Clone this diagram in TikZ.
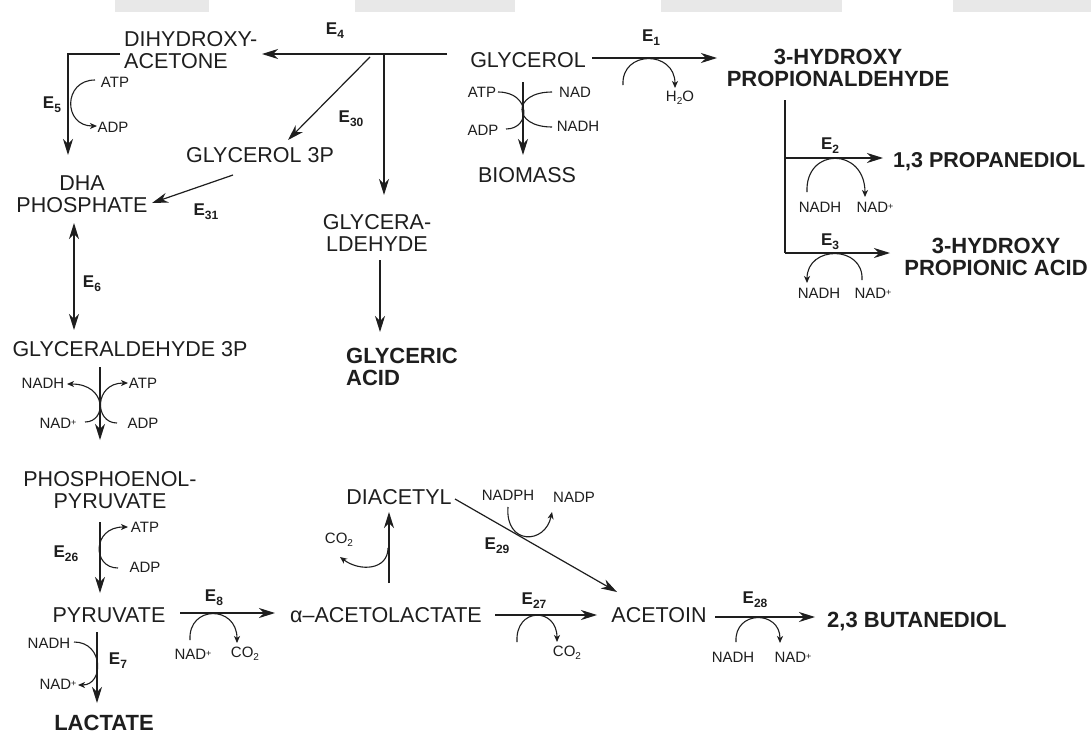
\documentclass[tikz,border=0pt]{standalone}
\usepackage{fontspec}
\setmainfont{Liberation Sans}
\usetikzlibrary{arrows.meta}
\definecolor{ink}{HTML}{1E1E1E}
\definecolor{wm}{HTML}{E8E8E8}
\newcommand{\Enz}[1]{E\raisebox{-4pt}{\fontsize{12}{12}\selectfont #1}}
\newcommand{\sbs}[1]{\raisebox{-2.5pt}{\fontsize{10}{10}\selectfont #1}}
\newcommand{\plusup}{\raisebox{2.5pt}{\fontsize{9}{9}\selectfont +}}
\begin{document}
\begin{tikzpicture}[x=1pt,y=-1pt,
  met/.style={font=\fontsize{21.5}{22}\selectfont, inner sep=0pt, align=center, text=ink},
  prod/.style={met, font=\fontsize{22}{22}\selectfont\bfseries},
  cof/.style={font=\fontsize{15}{15}\selectfont, inner sep=0pt, text=ink},
  enz/.style={font=\fontsize{17}{17}\selectfont\bfseries, inner sep=0pt, text=ink},
  rxn/.style={draw=ink, line width=1.2pt, -{Stealth[length=16pt,width=10pt,inset=5pt]}},
  rxnboth/.style={draw=ink, line width=1.2pt, {Stealth[length=16pt,width=10pt,inset=5pt]}-{Stealth[length=16pt,width=10pt,inset=5pt]}},
  ln/.style={draw=ink, line width=1.2pt},
  cofarr/.style={draw=ink, line width=1.1pt, -{Stealth[length=7pt,width=6pt,inset=2pt]}},
  cofln/.style={draw=ink, line width=1.1pt}]
\useasboundingbox (0,0) rectangle (1091,734);
\fill[white] (0,0) rectangle (1091,734);
% watermark band
\fill[wm] (115,0) rectangle (209,12);
\fill[wm] (355,0) rectangle (515,12);
\fill[wm] (661,0) rectangle (842,12);
\fill[wm] (953,0) rectangle (1091,12);

% ---------- metabolites ----------
\node[met, anchor=west, align=left] (dhac) at (124,50) {DIHYDROXY-\\ACETONE};
\node[met] (gly) at (528,60) {GLYCEROL};
\node[prod] (hpa) at (838,68) {3-HYDROXY\\PROPIONALDEHYDE};
\node[met] (g3p) at (260,155) {GLYCEROL 3P};
\node[met] (dhap) at (82,194) {DHA\\PHOSPHATE};
\node[met] (glyald) at (377,233) {GLYCERA-\\LDEHYDE};
\node[met] (bio) at (527,175) {BIOMASS};
\node[prod, anchor=base west, font=\fontsize{21.5}{22}\selectfont\bfseries] (pdo) at (893,167) {1,3 PROPANEDIOL};
\node[prod] (hpacid) at (996,257) {3-HYDROXY\\PROPIONIC ACID};
\node[prod, anchor=west, align=left] (glyac) at (346,367) {GLYCERIC\\ACID};
\node[met] (gap) at (130,349) {GLYCERALDEHYDE 3P};
\node[met] (pep) at (110,490) {PHOSPHOENOL-\\PYRUVATE};
\node[met] (pyr) at (109,615) {PYRUVATE};
\node[prod] (lac) at (104,723) {LACTATE};
\node[met] (acl) at (386,615) {α–ACETOLACTATE};
\node[met] (diac) at (399,497) {DIACETYL};
\node[met] (acetoin) at (659,615) {ACETOIN};
\node[prod, anchor=base west] (bdo) at (827,627) {2,3 BUTANEDIOL};

% ---------- enzyme labels ----------
\node[enz] (e1) at (651,38) {\Enz{1}};
\node[enz] (e2) at (830,146) {\Enz{2}};
\node[enz] (e3) at (830,242) {\Enz{3}};
\node[enz] (e4) at (335,31) {\Enz{4}};
\node[enz] (e5) at (52,105) {\Enz{5}};
\node[enz] (e6) at (92,284) {\Enz{6}};
\node[enz] (e7) at (118,661) {\Enz{7}};
\node[enz] (e8) at (214,598) {\Enz{8}};
\node[enz] (e26) at (66,554) {\Enz{26}};
\node[enz] (e27) at (534,601) {\Enz{27}};
\node[enz] (e28) at (755,600) {\Enz{28}};
\node[enz] (e29) at (497,546) {\Enz{29}};
\node[enz] (e30) at (351,119) {\Enz{30}};
\node[enz] (e31) at (206,212) {\Enz{31}};

% ---------- cofactors ----------
\node[cof] (c5a) at (115,82) {ATP};
\node[cof] (c5b) at (113,127) {ADP};
\node[cof] (cbATP) at (482,92) {ATP};
\node[cof] (cbNAD) at (575,92) {NAD};
\node[cof] (cbADP) at (483,130) {ADP};
\node[cof] (cbNADH) at (578,126) {NADH};
\node[cof] (c1) at (680,98) {H\sbs{2}O};
\node[cof] (c2a) at (820,207) {NADH};
\node[cof] (c2b) at (875,207) {NAD\plusup};
\node[cof] (c3a) at (819,293) {NADH};
\node[cof] (c3b) at (873,293) {NAD\plusup};
\node[cof] (cgNADH) at (43,383) {NADH};
\node[cof] (cgATP) at (143,383) {ATP};
\node[cof] (cgNAD) at (58,423) {NAD\plusup};
\node[cof] (cgADP) at (143,423) {ADP};
\node[cof] (c26a) at (145,527) {ATP};
\node[cof] (c26b) at (145,567) {ADP};
\node[cof] (c7a) at (49,643) {NADH};
\node[cof] (c7b) at (58,684) {NAD\plusup};
\node[cof] (c8a) at (193,654) {NAD\plusup};
\node[cof] (c8b) at (245,654) {CO\sbs{2}};
\node[cof] (cdco2) at (339,540) {CO\sbs{2}};
\node[cof] (c29a) at (508,495) {NADPH};
\node[cof] (c29b) at (574,497) {NADP};
\node[cof] (c27) at (567,653) {CO\sbs{2}};
\node[cof] (c28a) at (733,657) {NADH};
\node[cof] (c28b) at (793,657) {NAD\plusup};

% ---------- connector points ----------
\coordinate (e4s) at (447,54);
\coordinate (e4t) at (262,54);
\coordinate (bra) at (384,54);
\coordinate (brat) at (384,195);
\coordinate (e30s) at (370,57);
\coordinate (e30t) at (288,140);
\coordinate (e31s) at (233,175);
\coordinate (e31t) at (152,203);
\coordinate (e5s) at (120,54);
\coordinate (e5c) at (68,54);
\coordinate (e5t) at (68,155);
\coordinate (e6a) at (74,223);
\coordinate (e6b) at (74,330);
\coordinate (gas) at (380,260);
\coordinate (gat) at (380,332);
\coordinate (gps) at (100,367);
\coordinate (gpt) at (100,440);
\coordinate (e26s) at (100,522);
\coordinate (e26t) at (100,593);
\coordinate (e7s) at (97,632);
\coordinate (e7t) at (97,703);
\coordinate (e8s) at (180,613);
\coordinate (e8t) at (275,613);
\coordinate (ads) at (389,583);
\coordinate (adt) at (389,512);
\coordinate (e29s) at (455,499);
\coordinate (e29t) at (617,592);
\coordinate (e27s) at (495,615);
\coordinate (e27t) at (597,615);
\coordinate (e28s) at (715,617);
\coordinate (e28t) at (815,617);
\coordinate (e1s) at (592,58);
\coordinate (e1t) at (717,58);
\coordinate (bms) at (523,82);
\coordinate (bmt) at (523,155);
\coordinate (vr0) at (785,100);
\coordinate (vr1) at (785,158);
\coordinate (vr2) at (785,253);
\coordinate (e2t) at (883,158);
\coordinate (e3t) at (890,253);

% ---------- main reactions ----------
\draw[rxn] (e4s) -- (e4t);
\draw[rxn] (bra) -- (brat);
\draw[rxn] (e30s) -- (e30t);
\draw[rxn] (e31s) -- (e31t);
\draw[rxn] (e5s) -- (e5c) -- (e5t);
\draw[rxnboth] (e6a) -- (e6b);
\draw[rxn] (gas) -- (gat);
\draw[rxn] (gps) -- (gpt);
\draw[rxn] (e26s) -- (e26t);
\draw[rxn] (e7s) -- (e7t);
\draw[rxn] (e8s) -- (e8t);
\draw[rxn] (ads) -- (adt);
\draw[rxn] (e29s) -- (e29t);
\draw[rxn] (e27s) -- (e27t);
\draw[rxn] (e28s) -- (e28t);
\draw[rxn] (e1s) -- (e1t);
\draw[rxn] (bms) -- (bmt);
\draw[ln] (vr0) -- (vr2);
\draw[rxn] (vr1) -- (e2t);
\draw[rxn] (vr2) -- (e3t);

% ---------- cofactor arcs ----------
\draw[cofarr] (623,85) .. controls (621,50) and (675,50) .. (675,88);      % H2O
\draw[cofarr] (807,192) .. controls (805,147) and (865,147) .. (865,197);  % E2
\draw[cofarr] (862,280) .. controls (864,245) and (807,245) .. (807,283);  % E3
\draw[cofarr] (95,80) .. controls (63,80) and (63,126) .. (97,126);        % E5
\draw[cofln] (498,92) .. controls (531,92) and (531,129) .. (506,129);     % biomass ATP
\draw[cofln] (552,92) .. controls (512,92) and (512,127) .. (552,127);     % biomass NAD
\draw[cofarr] (85,422) .. controls (107,422) and (107,384) .. (67,384);    % GAP NAD
\draw[cofarr] (117,423) .. controls (94,423) and (94,383) .. (128,383);    % GAP ADP
\draw[cofarr] (118,568) .. controls (92,568) and (92,527) .. (128,527);    % E26
\draw[cofarr] (74,642) .. controls (104,642) and (104,685) .. (78,685);    % E7
\draw[cofarr] (190,640) .. controls (188,605) and (237,605) .. (237,643);  % E8
\draw[cofarr] (388,548) .. controls (388,570) and (360,572) .. (340,557);  % CO2 diacetyl
\draw[cofarr] (508,507) .. controls (505,545) and (545,545) .. (552,512);  % E29
\draw[cofarr] (517,642) .. controls (515,607) and (557,607) .. (557,642);  % E27
\draw[cofarr] (736,642) .. controls (734,610) and (780,610) .. (780,643);  % E28
\end{tikzpicture}
\end{document}
